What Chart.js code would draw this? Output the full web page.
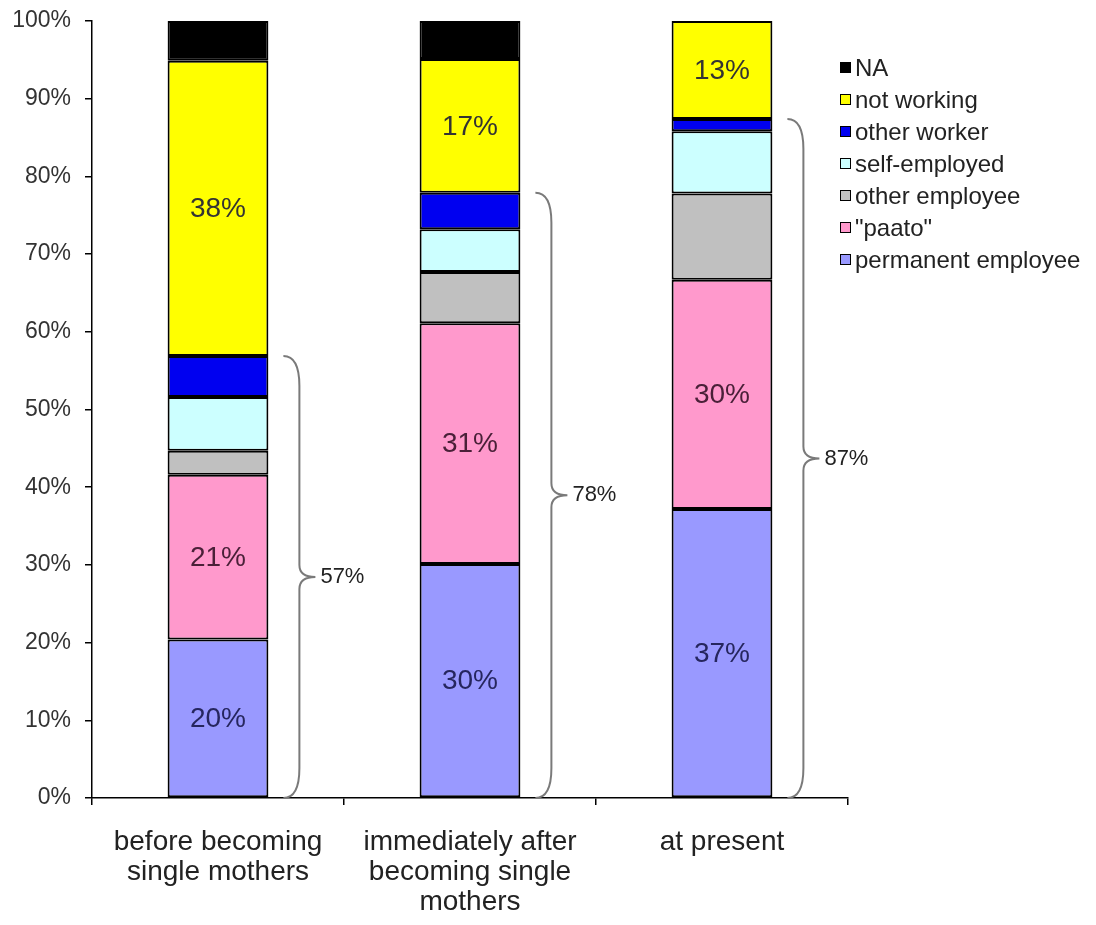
<!DOCTYPE html>
<html>
<head>
<meta charset="utf-8">
<script src="https://cdn.jsdelivr.net/npm/chart.js@4/dist/chart.umd.min.js"></script>
<style>
  html, body { margin: 0; padding: 0; background: #fff; }
  #wrap { width: 1096px; height: 925px; }
</style>
</head>
<body>
<div id="wrap"><canvas id="c" width="1096" height="925"></canvas></div>
<script>
/* ── Data ── */
const categories = [
  ["before becoming", "single mothers"],
  ["immediately after", "becoming single", "mothers"],
  ["at present"]
];
const seriesNames = ["permanent employee", "\"paato\"", "other employee", "self-employed", "other worker", "not working", "NA"];
const permanent     = [20.4, 30.1, 37.2];
const paato         = [21.2, 31.0, 29.5];
const otherEmployee = [3.1, 6.6, 11.1];
const selfEmployed  = [6.9, 5.5, 8.0];
const otherWorker   = [5.3, 4.7, 1.6];
const notWorking    = [38.0, 17.2, 12.6];
const na            = [5.1, 4.9, null];
const braceLabels   = ["57%", "78%", "87%"];
const yMin = 0, yMax = 100, yStep = 10;

/* ── Styles ── */
const colors = ["#9999ff", "#ff99cc", "#c0c0c0", "#ccffff", "#0000f0", "#ffff00", "#000000"];
const showLabel = [true, true, false, false, false, true, false];
const labelColors = ["#26265e", "#4a2038", "#333", "#333", "#333", "#333333", "#333"];
const FONT = "'Liberation Sans', Arial, sans-serif";

const series = [permanent, paato, otherEmployee, selfEmployed, otherWorker, notWorking, na];
const datasets = series.map((d, i) => ({
  label: seriesNames[i],
  data: d,
  backgroundColor: colors[i],
  borderColor: "#000",
  borderWidth: 2,
  borderSkipped: false,
  categoryPercentage: 1,
  barPercentage: 0.4
}));

/* ── Plugins ── */
const segLabels = {
  id: "segLabels",
  afterDatasetsDraw(chart) {
    const ctx = chart.ctx;
    ctx.save();
    ctx.font = "28px " + FONT;
    ctx.textAlign = "center";
    ctx.textBaseline = "middle";
    chart.data.datasets.forEach((ds, i) => {
      if (!showLabel[i]) return;
      chart.getDatasetMeta(i).data.forEach((bar, j) => {
        const v = ds.data[j];
        if (v == null) return;
        ctx.fillStyle = labelColors[i];
        ctx.fillText(Math.round(v) + "%", bar.x, (bar.y + bar.base) / 2 + 1);
      });
    });
    ctx.restore();
  }
};

const braces = {
  id: "braces",
  afterDatasetsDraw(chart) {
    const ctx = chart.ctx, y = chart.scales.y;
    const bars = chart.getDatasetMeta(0).data;
    ctx.save();
    bars.forEach((bar, j) => {
      let working = 0;
      for (let k = 0; k < 5; k++) working += series[k][j] || 0;
      const right = bar.x + bar.width / 2;
      const yTop = y.getPixelForValue(working), yBot = y.getPixelForValue(0);
      const yMid = (yTop + yBot) / 2;
      const x0 = right + 15, x1 = right + 31, x2 = right + 47;
      ctx.strokeStyle = "#7a7a7a";
      ctx.lineWidth = 2;
      ctx.beginPath();
      ctx.moveTo(x0, yTop);
      ctx.quadraticCurveTo(x1, yTop, x1, yTop + 30);
      ctx.lineTo(x1, yMid - 12);
      ctx.quadraticCurveTo(x1, yMid, x2, yMid);
      ctx.quadraticCurveTo(x1, yMid, x1, yMid + 12);
      ctx.lineTo(x1, yBot - 30);
      ctx.quadraticCurveTo(x1, yBot, x0, yBot);
      ctx.stroke();
      ctx.fillStyle = "#222";
      ctx.font = "22px " + FONT;
      ctx.textAlign = "left";
      ctx.textBaseline = "middle";
      ctx.fillText(braceLabels[j], x2 + 5, yMid);
    });
    ctx.restore();
  }
};

const sideLegend = {
  id: "sideLegend",
  afterDraw(chart) {
    const ctx = chart.ctx;
    const items = chart.data.datasets.map((d, i) => ({ text: d.label, color: colors[i] })).reverse();
    ctx.save();
    ctx.font = "24px " + FONT;
    ctx.textBaseline = "middle";
    items.forEach((it, i) => {
      const cy = 68 + i * 32;
      ctx.fillStyle = it.color;
      ctx.fillRect(840, cy - 6, 11, 11);
      ctx.strokeStyle = "#000";
      ctx.lineWidth = 1;
      ctx.strokeRect(840.5, cy - 5.5, 10, 10);
      ctx.fillStyle = "#222";
      ctx.fillText(it.text, 855, cy + 1);
    });
    ctx.restore();
  }
};

/* ── Chart ── */
new Chart(document.getElementById("c"), {
  type: "bar",
  data: { labels: categories, datasets },
  options: {
    responsive: false,
    devicePixelRatio: 1,
    animation: false,
    layout: { padding: { top: 21, right: 248, left: 0, bottom: 0 } },
    plugins: { legend: { display: false }, tooltip: { enabled: false } },
    scales: {
      x: {
        stacked: true,
        border: { color: "#000", width: 1.5 },
        grid: { display: true, drawOnChartArea: false, offset: true, color: "#000", tickLength: 7, lineWidth: 1.5 },
        ticks: { color: "#222", font: { family: FONT, size: 28, lineHeight: 1.08 }, padding: 22, maxRotation: 0, autoSkip: false },
        afterFit(s) { s.height = 127; }
      },
      y: {
        stacked: true,
        min: yMin, max: yMax,
        border: { color: "#000", width: 1.5 },
        grid: { drawOnChartArea: false, color: "#000", tickLength: 7, lineWidth: 1.5 },
        ticks: { stepSize: yStep, color: "#333", font: { family: FONT, size: 23 }, padding: 14, callback: v => v + "%" },
        afterFit(s) { s.width = 92; s.paddingTop = 0; s.paddingBottom = 0; }
      }
    }
  },
  plugins: [segLabels, braces, sideLegend]
});
</script>
</body>
</html>
